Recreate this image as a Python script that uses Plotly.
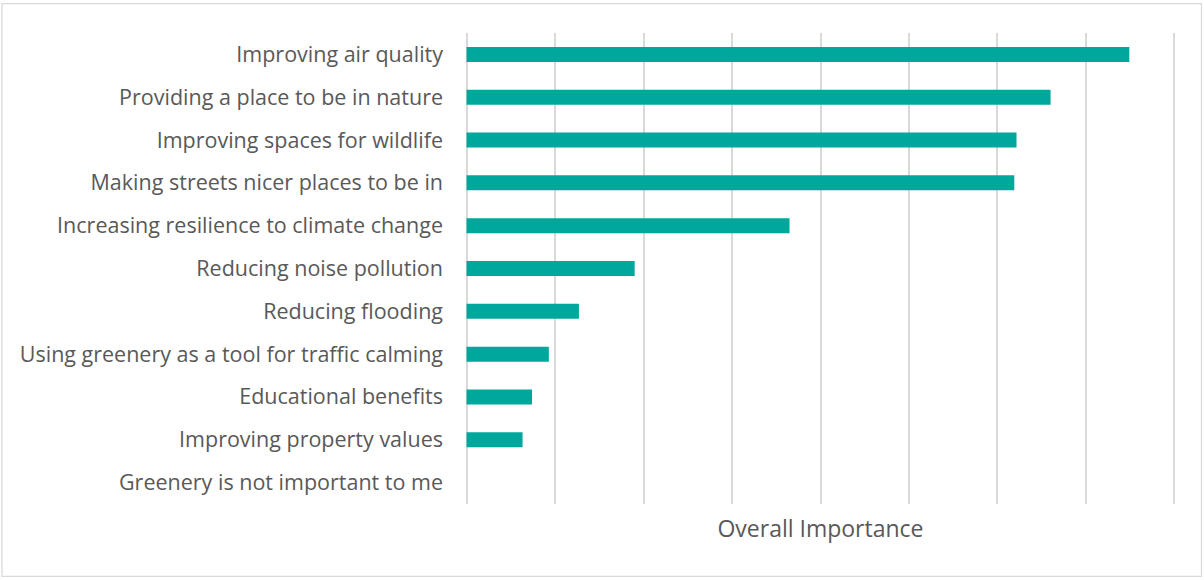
import plotly.graph_objects as go

categories = [
    "Improving air quality",
    "Providing a place to be in nature",
    "Improving spaces for wildlife",
    "Making streets nicer places to be in",
    "Increasing resilience to climate change",
    "Reducing noise pollution",
    "Reducing flooding",
    "Using greenery as a tool for traffic calming",
    "Educational benefits",
    "Improving property values",
    "Greenery is not important to me",
]
values = [7.49, 6.60, 6.215, 6.19, 3.65, 1.90, 1.27, 0.93, 0.74, 0.633, 0]

W, H = 1204, 580
x_min, x_max = 0, 8
pad_u = 0.04                      # small range padding so edge gridlines are drawn
unit_px = (1174 - 467) / (x_max - x_min)
ml = 467 - pad_u * unit_px
mr = 30 - pad_u * unit_px
mt, mb = 32.5, 75.5
pw, ph = W - ml - mr, H - mt - mb

fig = go.Figure(go.Bar(
    y=categories,
    x=values,
    orientation="h",
    marker=dict(color="#00A79B", line=dict(width=0)),
    width=0.35,
    hoverinfo="x+y",
))

font_family = "'Open Sans', sans-serif"
fig.update_layout(
    width=W, height=H,
    margin=dict(l=ml, r=mr, t=mt, b=mb, pad=0),
    paper_bgcolor="white", plot_bgcolor="white",
    showlegend=False,
    font=dict(family=font_family, size=21.5, color="#595959"),
    xaxis=dict(
        range=[x_min - pad_u, x_max + pad_u], dtick=1, tick0=0, showticklabels=False,
        showgrid=True, gridcolor="#d9d9d9", gridwidth=1.5,
        zeroline=True, zerolinecolor="#d9d9d9", zerolinewidth=1.5,
        showline=False, fixedrange=True,
        title=dict(text="Overall Importance", font=dict(size=23, color="#595959"), standoff=16),
    ),
    yaxis=dict(
        autorange="reversed", showgrid=False, zeroline=False, showline=False,
        ticklabelstandoff=19, tickfont=dict(size=21.5, color="#595959"),
        fixedrange=True,
    ),
    shapes=[dict(
        type="rect", xref="paper", yref="paper",
        x0=(3 - ml) / pw, x1=(1201 - ml) / pw,
        y0=(H - mb - 577) / ph, y1=(H - mb - 3) / ph,
        line=dict(color="#d9d9d9", width=1.2), fillcolor="rgba(0,0,0,0)", layer="below",
    )],
)

fig.write_html("out.html", config={"displayModeBar": False},
               post_script="document.body.style.margin='0';")
